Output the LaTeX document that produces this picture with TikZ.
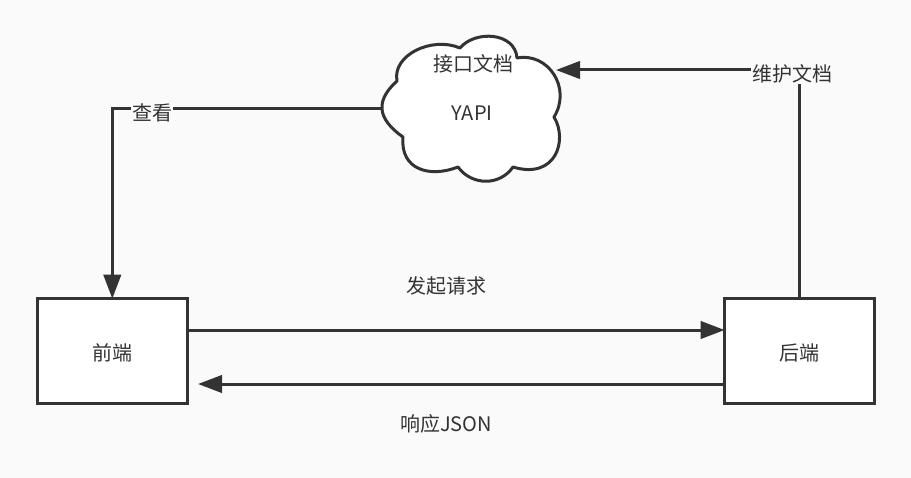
\documentclass[tikz,border=0pt]{standalone}
\usepackage{fontspec}
\setmainfont{Noto Sans CJK SC}
\usepackage{xcolor}
\definecolor{cMain}{HTML}{333333}
\definecolor{cBack}{HTML}{FAFAFA}
\usetikzlibrary{positioning,arrows.meta}
\newcommand{\boxtext}[1]{\raisebox{-6.8pt}[7pt][7pt]{#1}}
\tikzset{
  node-box/.style={draw=cMain,line width=2.25pt,fill=white,outer sep=0pt,
    minimum height=78.5pt,minimum width=112.5pt,align=center},
  node-label/.style={text=cMain,inner sep=1pt},
  node-over/.style={node-label,fill=cBack},
  line-main/.style={line width=2.25pt,draw=cMain},
  arrow/.style={-{Triangle[length=18pt,width=13pt]},line-main},
}

\begin{document}
\begin{tikzpicture}[x=0.75pt,y=-0.75pt,every node/.append style={font=\fontsize{15pt}{18pt}\selectfont}]
  \fill[cBack] (0,0) rectangle (911,478);
  % cloud
  \draw[line-main,fill=white,line join=round]
    (397,81) .. controls (392,55) and (432,36) .. (460,48)
    .. controls (475,30) and (515,32) .. (517,58)
    .. controls (548,52) and (572,88) .. (554,117)
    .. controls (568,140) and (556,180) .. (513,167)
    .. controls (500,186) and (472,186) .. (458,167)
    .. controls (430,178) and (400,170) .. (403,137)
    .. controls (376,118) and (376,100) .. (397,81) -- cycle;
  \coordinate (cloudW) at (382,109);
  \coordinate (cloudE) at (556,70);
  \coordinate (respEnd) at (198,384);
  \node[node-label] (doc)  at (473,64)  {接口文档};
  \node[node-label] (yapi) at (472,113) {YAPI};
  \node[node-box,text=cMain] (front) at (112.3,351) {\boxtext{前端}};
  \node[node-box,text=cMain,right=403pt of front] (back) {\boxtext{后端}};
  \draw[arrow] (cloudW) -| (front.north);
  \draw[arrow] (back.north) |- (cloudE);
  \draw[arrow] ([yshift=15.75pt]front.east) -- ([yshift=15.75pt]back.west);
  \draw[arrow] ([yshift=-24.75pt]back.west) -- (respEnd);
  \node[node-over] (view)  at (152,112.5) {查看};
  \node[node-over] (keep)  at (792,73.5)  {维护文档};
  \node[node-label] (req)  at (446,286) {发起请求};
  \node[node-label] (resp) at (446,424) {响应JSON};
\end{tikzpicture}
\end{document}
